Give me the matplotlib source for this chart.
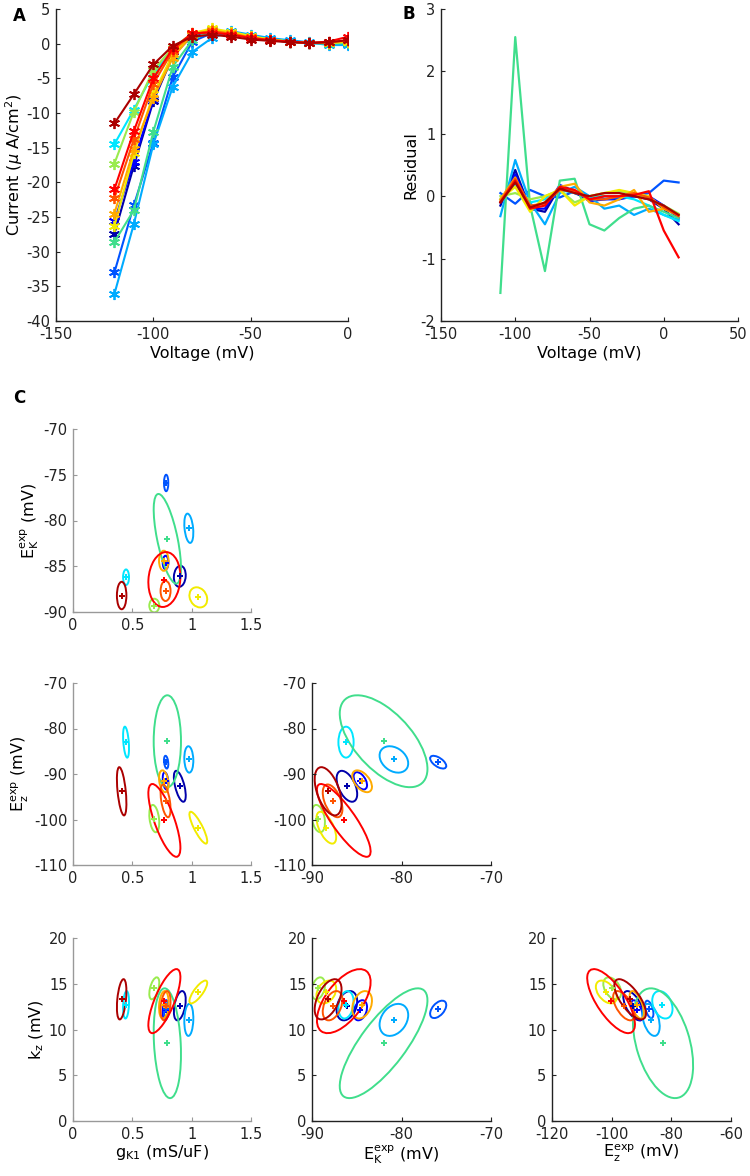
import numpy as np
import matplotlib
matplotlib.use('Agg')
import matplotlib.pyplot as plt
from matplotlib.patches import Ellipse

# MATLAB jet(12)-like colours, one per cell
cell_colors = [(0, 0, .67), (0, 0, 1), (0, .33, 1), (0, .67, 1), (0, .9, 1),
               (.25, .87, .55), (.6, .92, .3), (.95, .92, 0), (1, .67, 0),
               (1, .33, 0), (1, 0, 0), (.67, 0, 0)]

# Panel A: I-V curves
volt_a = [-120, -110, -100, -90, -80, -70, -60, -50, -40, -30, -20, -10, 0]
current = [
    [-27.4, -17.6, -8.3, -1.8, 1.2, 1.8, 1.5, 0.9, 0.5, 0.3, 0.1, 0.1, 0.2],
    [-25.6, -17.0, -8.0, -1.5, 1.3, 1.9, 1.5, 0.9, 0.5, 0.3, 0.1, 0.1, 0.1],
    [-33.0, -23.3, -14.3, -4.8, 0.3, 1.5, 1.5, 1.0, 0.6, 0.3, 0.1, 0.0, 0.0],
    [-36.1, -26.0, -14.5, -6.2, -1.2, 0.8, 1.8, 1.3, 0.8, 0.5, 0.2, -0.2, -0.2],
    [-14.5, -9.5, -4.3, -0.8, 1.4, 1.9, 1.6, 1.0, 0.6, 0.3, 0.1, 0.1, 0.2],
    [-28.6, -24.0, -12.7, -3.3, 0.5, 1.9, 1.7, 1.1, 0.6, 0.3, 0.1, 0.0, 0.1],
    [-17.3, -9.8, -3.8, -0.6, 1.5, 2.0, 1.6, 1.0, 0.6, 0.3, 0.1, 0.1, 0.2],
    [-26.3, -15.8, -7.3, -1.5, 1.5, 2.2, 1.7, 1.1, 0.6, 0.3, 0.1, 0.1, 0.3],
    [-24.5, -15.2, -7.8, -2.0, 1.3, 1.9, 1.5, 0.9, 0.5, 0.3, 0.1, 0.1, 0.4],
    [-22.3, -13.8, -5.8, -1.0, 1.4, 1.8, 1.4, 0.9, 0.5, 0.3, 0.1, 0.2, 0.5],
    [-21.0, -12.6, -5.0, -0.7, 1.5, 1.6, 1.3, 0.8, 0.5, 0.3, 0.1, 0.3, 1.0],
    [-11.5, -7.3, -3.0, -0.3, 1.0, 1.3, 1.0, 0.6, 0.4, 0.2, 0.1, 0.2, 0.5],
]

# Panel B: residuals
volt_b = [-110, -100, -90, -80, -70, -60, -50, -40, -30, -20, -10, 0, 10]
residual = [
    [-0.15, 0.42, -0.2, -0.25, 0.15, 0.05, -0.05, 0.0, 0.0, 0.0, -0.05, -0.2, -0.45],
    [-0.1, 0.35, -0.2, -0.2, 0.18, 0.08, -0.08, -0.05, -0.05, 0.0, 0.0, -0.15, -0.35],
    [0.05, -0.12, 0.1, 0.0, -0.02, 0.08, -0.05, -0.05, -0.02, 0.0, 0.05, 0.25, 0.22],
    [-0.32, 0.58, -0.1, -0.45, 0.05, 0.15, 0.0, -0.2, -0.15, -0.3, -0.2, -0.3, -0.38],
    [-0.05, 0.2, -0.1, -0.05, 0.1, 0.05, 0.0, 0.0, 0.0, -0.05, -0.15, -0.3, -0.4],
    [-1.55, 2.55, -0.15, -1.2, 0.25, 0.28, -0.45, -0.55, -0.35, -0.2, -0.15, -0.25, -0.35],
    [0.0, 0.05, -0.05, 0.0, 0.1, -0.1, 0.0, 0.05, 0.08, 0.05, -0.05, -0.15, -0.28],
    [-0.05, 0.15, -0.25, 0.0, 0.1, -0.15, 0.0, 0.05, 0.1, 0.05, 0.0, -0.2, -0.3],
    [-0.05, 0.3, -0.2, -0.1, 0.15, 0.2, -0.1, -0.15, -0.05, 0.1, -0.25, -0.2, -0.3],
    [-0.08, 0.28, -0.15, -0.12, 0.1, 0.08, -0.05, -0.05, 0.0, 0.05, -0.02, -0.18, -0.32],
    [-0.1, 0.25, -0.2, -0.15, 0.15, 0.1, -0.05, 0.0, 0.0, 0.02, 0.08, -0.55, -0.98],
    [-0.1, 0.22, -0.18, -0.1, 0.12, 0.05, 0.0, 0.05, 0.05, 0.0, -0.05, -0.15, -0.3],
]

# Panel C: parameter estimates per cell (centre) and confidence half-extents
g_mean = [0.90, 0.78, 0.785, 0.976, 0.447, 0.795, 0.685, 1.056, 0.765, 0.78, 0.77, 0.41]
ek_mean = [-86.1, -84.6, -75.9, -80.85, -86.2, -82.0, -89.3, -88.4, -84.4, -87.7, -86.45, -88.2]
ez_mean = [-92.7, -91.5, -87.4, -86.8, -83.0, -82.8, -99.8, -101.8, -91.6, -95.9, -100.2, -93.8]
kz_mean = [12.6, 12.1, 12.2, 11.05, 12.7, 8.5, 14.5, 14.1, 12.7, 12.6, 13.1, 13.3]

g_half = [0.05, 0.024, 0.018, 0.038, 0.025, 0.115, 0.042, 0.075, 0.04, 0.042, 0.135, 0.04]
ek_half = [1.15, 0.75, 0.9, 1.6, 0.85, 4.9, 0.75, 1.1, 1.1, 1.1, 3.0, 1.5]
ez_half = [3.4, 1.9, 1.4, 2.9, 3.4, 10.1, 3.0, 3.5, 2.4, 3.6, 8.0, 5.3]
kz_half = [1.6, 1.1, 0.95, 1.75, 1.5, 6.0, 1.2, 1.25, 1.5, 1.6, 3.5, 2.2]

rho_g_ek = [0.1, 0.0, 0.0, -0.3, 0.0, -0.65, 0.0, -0.2, 0.0, 0.0, 0.1, 0.0]
rho_g_ez = [-0.6, -0.3, -0.3, -0.1, -0.4, 0.0, -0.3, -0.85, -0.3, -0.5, -0.75, -0.5]
rho_g_kz = [0.4, 0.2, 0.2, 0.1, 0.2, -0.2, 0.5, 0.8, 0.2, 0.3, 0.75, 0.4]
rho_ek_ez = [-0.5, -0.5, -0.6, -0.3, 0.0, -0.6, -0.3, -0.6, -0.5, -0.5, -0.85, -0.5]
rho_ek_kz = [0.3, 0.3, 0.5, 0.3, 0.2, 0.78, 0.3, 0.3, 0.3, 0.4, 0.6, 0.5]
rho_ez_kz = [-0.6, -0.6, -0.5, -0.4, -0.3, -0.4, -0.4, -0.45, -0.6, -0.6, -0.72, -0.7]

lbl_g = 'g$_{\\mathrm{K1}}$ (mS/uF)'
lbl_ek = 'E$_\\mathrm{K}^\\mathrm{exp}$ (mV)'
lbl_ez = 'E$_\\mathrm{z}^\\mathrm{exp}$ (mV)'
lbl_kz = 'k$_\\mathrm{z}$ (mV)'

plt.rcParams['font.family'] = 'DejaVu Sans'
plt.rcParams['mathtext.fontset'] = 'dejavusans'
plt.rcParams['axes.unicode_minus'] = False

W, H = 750, 1176
fig = plt.figure(figsize=(W / 100, H / 100), dpi=100)

TICK = 10.5
LAB = 11.5


def make_axes(left, top, right, bottom, spine_col='#222222'):
    ax = fig.add_axes([left / W, 1 - bottom / H, (right - left) / W, (bottom - top) / H])
    ax.spines['top'].set_visible(False)
    ax.spines['right'].set_visible(False)
    for s in ('left', 'bottom'):
        ax.spines[s].set_color(spine_col)
        ax.spines[s].set_linewidth(1.0)
    ax.tick_params(direction='in', length=3, width=0.8, labelsize=TICK,
                   colors=spine_col, labelcolor='#222222')
    ax.tick_params(axis='x', pad=4)
    ax.tick_params(axis='y', pad=4)
    return ax


# ---- Panel A
axA = make_axes(56, 9, 348, 321)
for i, row in enumerate(current):
    axA.plot(volt_a, row, color=cell_colors[i], lw=1.5, marker=(6, 2, 0),
             ms=8, mew=1.3)
axA.set_xlim(-150, 0)
axA.set_ylim(-40, 5)
axA.set_xticks([-150, -100, -50, 0])
axA.set_yticks(np.arange(-40, 6, 5))
axA.set_xlabel('Voltage (mV)', fontsize=LAB, labelpad=3)
axA.set_ylabel('Current ($\\mu$ A/cm$^2$)', fontsize=LAB, labelpad=1)

# ---- Panel B
axB = make_axes(441, 9, 738, 321)
for i, row in enumerate(residual):
    axB.plot(volt_b, row, color=cell_colors[i], lw=1.6)
axB.set_xlim(-150, 50)
axB.set_ylim(-2, 3)
axB.set_xticks([-150, -100, -50, 0, 50])
axB.set_yticks([-2, -1, 0, 1, 2, 3])
axB.set_xlabel('Voltage (mV)', fontsize=LAB, labelpad=3)
axB.set_ylabel('Residual', fontsize=LAB, labelpad=2)

fig.text(13 / W, 1 - 16 / H, 'A', fontsize=12, fontweight='bold', va='center')
fig.text(402 / W, 1 - 14 / H, 'B', fontsize=12, fontweight='bold', va='center')
fig.text(13 / W, 1 - 398 / H, 'C', fontsize=12, fontweight='bold', va='center')

# ---- Panel C
params = {
    'g': (g_mean, g_half),
    'ek': (ek_mean, ek_half),
    'ez': (ez_mean, ez_half),
    'kz': (kz_mean, kz_half),
}
rhos = {
    ('g', 'ek'): rho_g_ek, ('g', 'ez'): rho_g_ez, ('g', 'kz'): rho_g_kz,
    ('ek', 'ez'): rho_ek_ez, ('ek', 'kz'): rho_ek_kz, ('ez', 'kz'): rho_ez_kz,
}
labels = {'g': lbl_g, 'ek': lbl_ek, 'ez': lbl_ez, 'kz': lbl_kz}

col_x = [(73, 251), (312, 491), (552, 731)]
row_y = [(429, 612), (683, 865), (938, 1121)]
col_vars = ['g', 'ek', 'ez']
row_vars = ['ek', 'ez', 'kz']


def draw_pair(ax, xv, yv):
    xm, xh = params[xv]
    ym, yh = params[yv]
    rr = rhos[(xv, yv)]
    for i in range(len(xm)):
        c = rr[i] * xh[i] * yh[i]
        cov = np.array([[xh[i] ** 2, c], [c, yh[i] ** 2]])
        vals, vecs = np.linalg.eigh(cov)
        ang = np.degrees(np.arctan2(vecs[1, 1], vecs[0, 1]))
        ell = Ellipse((xm[i], ym[i]), 2 * np.sqrt(vals[1]), 2 * np.sqrt(vals[0]),
                      angle=ang, fill=False, ec=cell_colors[i], lw=1.4)
        ax.add_patch(ell)
        ax.plot(xm[i], ym[i], marker='P', ms=4.5, color=cell_colors[i], mew=0)


for r, yv in enumerate(row_vars):
    for cidx, xv in enumerate(col_vars[:r + 1]):
        spine = '#999999' if cidx == 0 else '#222222'
        ax = make_axes(col_x[cidx][0], row_y[r][0], col_x[cidx][1], row_y[r][1], spine)
        draw_pair(ax, xv, yv)
        if xv == 'g':
            ax.set_xlim(0, 1.5)
            ax.set_xticks([0, 0.5, 1, 1.5])
            ax.set_xticklabels(['0', '0.5', '1', '1.5'])
        elif xv == 'ek':
            ax.set_xlim(-90, -70)
            ax.set_xticks([-90, -80, -70])
        else:
            ax.set_xlim(-120, -60)
            ax.set_xticks([-120, -100, -80, -60])
        if yv == 'ek':
            ax.set_ylim(-90, -70)
            ax.set_yticks(np.arange(-90, -69, 5))
        elif yv == 'ez':
            ax.set_ylim(-110, -70)
            ax.set_yticks(np.arange(-110, -69, 10))
        else:
            ax.set_ylim(0, 20)
            ax.set_yticks(np.arange(0, 21, 5))
        if cidx == 0:
            ax.set_ylabel(labels[yv], fontsize=LAB, labelpad=2)
        if r == 2:
            ax.set_xlabel(labels[xv], fontsize=LAB, labelpad=1)

fig.savefig('out.png', dpi=100)
